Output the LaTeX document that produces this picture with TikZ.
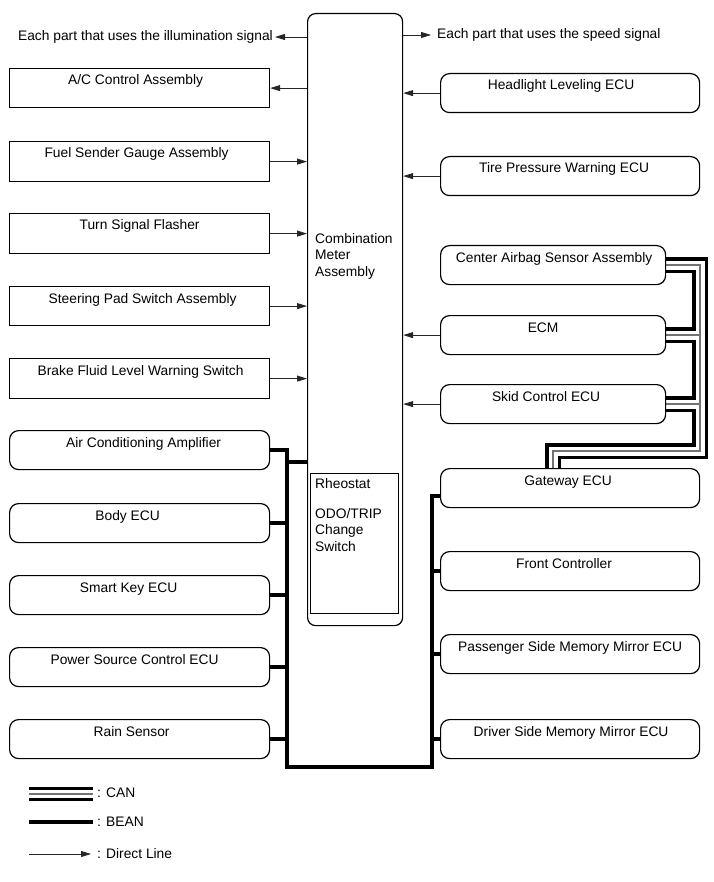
\documentclass[tikz,border=0pt]{standalone}
\usepackage{fontspec}
\setmainfont{Liberation Sans}
\usetikzlibrary{arrows.meta,backgrounds}
\newcommand\cannet[1]{%
  \draw[#1] (cab.east) -- (cab.east -| cx) -- (cx) -- (cg) -- (cg |- gw.north);
  \draw[#1] (ecm.east) -- (ecm.east -| cx);
  \draw[#1] (skid.east) -- (skid.east -| cx);}
\begin{document}
\begin{tikzpicture}[x=1pt,y=-1pt,
  every node/.style={font=\fontsize{13.8}{16.5}\selectfont},
  sq/.style={draw=black, line width=1.2pt, fill=white, anchor=north west, inner sep=0pt, minimum width=260pt, minimum height=39pt},
  rd/.style={sq, rounded corners=9pt},
  tl/.style 2 args={label={[anchor=base,yshift=-17pt,xshift=#2,inner sep=0pt]north:#1}},
  dl/.style={line width=0.8pt, black!85, -{Triangle[length=10pt,width=6pt]}},
  bean/.style={line width=4pt, line join=miter, black},
  canA/.style={line width=16pt, black, line join=miter},
  canB/.style={line width=9pt, white, line join=miter},
  canC/.style={line width=1.3pt, black!55, line join=miter},
]
\useasboundingbox (0,0) rectangle (713,882);

% central meter
\node[draw, line width=1.2pt, rounded corners=8pt, fill=white, anchor=north west, minimum width=95pt, minimum height=612pt, inner sep=0pt] (meter) at (307,13) {};
\node[anchor=north west, align=left, inner sep=0pt] (meterlbl) at (315,233) {Combination\\Meter\\Assembly};
\node[draw, line width=1pt, anchor=north west, minimum width=88pt, minimum height=140pt, inner sep=0pt] (rheo) at (310,473) {};
\node[anchor=base west, inner sep=0pt] (rh1) at (315,488) {Rheostat};
\node[anchor=north west, align=left, inner sep=0pt] (rh2) at (315,508) {ODO/TRIP\\Change\\Switch};

% left boxes
\node[sq, tl={A/C Control Assembly}{-4pt}] (ac) at (9,68) {};
\node[sq, tl={Fuel Sender Gauge Assembly}{-3pt}, minimum height=40pt] (fuel) at (9,141) {};
\node[sq, tl={Turn Signal Flasher}{0pt}, minimum height=40pt] (turn) at (9,213) {};
\node[sq, tl={Steering Pad Switch Assembly}{3pt}] (steer) at (9,286) {};
\node[sq, tl={Brake Fluid Level Warning Switch}{1pt}, minimum height=40pt] (brake) at (9,358) {};
\node[rd, tl={Air Conditioning Amplifier}{4pt}] (acamp) at (9,430) {};
\node[rd, tl={Body ECU}{-12pt}] (body) at (9,503) {};
\node[rd, tl={Smart Key ECU}{-11pt}] (smart) at (9,575) {};
\node[rd, tl={Power Source Control ECU}{-5pt}] (psc) at (9,647) {};
\node[rd, tl={Rain Sensor}{-8pt}] (rain) at (9,719) {};

% right boxes
\node[rd, tl={Headlight Leveling ECU}{-9pt}, minimum width=259pt] (hl) at (440,73) {};
\node[rd, tl={Tire Pressure Warning ECU}{-6pt}, minimum width=259pt] (tp) at (440,156) {};
\node[rd, tl={Center Airbag Sensor Assembly}{1pt}, minimum width=225pt] (cab) at (440,245) {};
\node[rd, tl={ECM}{-10pt}, minimum width=225pt] (ecm) at (440,315) {};
\node[rd, tl={Skid Control ECU}{-7pt}, minimum width=225pt] (skid) at (440,384) {};
\node[rd, tl={Gateway ECU}{-2pt}, minimum width=259pt] (gw) at (440,468) {};
\node[rd, tl={Front Controller}{-6pt}, minimum width=259pt] (fc) at (440,551) {};
\node[rd, tl={Passenger Side Memory Mirror ECU}{0pt}, minimum width=259pt] (pm) at (440,634) {};
\node[rd, tl={Driver Side Memory Mirror ECU}{1pt}, minimum width=259pt] (dm) at (440,719) {};

% top texts
\node[anchor=east, inner sep=0pt] (illum) at (273,37) {Each part that uses the illumination signal};
\node[anchor=west, inner sep=0pt] (speed) at (437,35) {Each part that uses the speed signal};

% coordinates
\coordinate (bl) at (287,767);
\coordinate (br) at (432,767);
\coordinate (gwb) at (440,496);
\coordinate (ms) at (307,462);
\coordinate (cx) at (700,451);
\coordinate (cg) at (553,451);

\begin{scope}[on background layer]
  % BEAN
  \draw[bean] (acamp.east) -| (bl) -- (br) |- (gwb);
  \draw[bean] (ms -| bl) -- (ms);
  \foreach \n in {body,smart,psc,rain} \draw[bean] (\n.east) -- (\n.east -| bl);
  \foreach \n in {fc,pm,dm} \draw[bean] (\n.west) -- (\n.west -| br);
  % CAN
  \cannet{canA}
  \cannet{canB}
  \cannet{canC}
\end{scope}

% direct lines
\draw[dl] (illum -| meter.west) -- ([xshift=2pt]illum.east);
\draw[dl] (speed -| meter.east) -- ([xshift=-6pt]speed.west);
\draw[dl] (ac.east -| meter.west) -- (ac.east);
\foreach \n in {fuel,turn,steer,brake} \draw[dl] (\n.east) -- (\n.east -| meter.west);
\foreach \n in {hl,tp,ecm,skid} \draw[dl] (\n.west) -- (\n.west -| meter.east);

% legend
\draw[canA, line width=14pt] (29,794) -- (93,794);
\draw[canB, line width=8pt] (29,794) -- (93,794);
\draw[canC] (29,794) -- (93,794);
\node[anchor=west, inner sep=0pt] (lgcan) at (97,793) {: CAN};
\draw[bean] (29,822) -- (93,822);
\node[anchor=west, inner sep=0pt] (lgbean) at (97,822) {: BEAN};
\draw[dl] (29,854) -- (91,854);
\node[anchor=west, inner sep=0pt] (lgdir) at (97,854) {: Direct Line};
\end{tikzpicture}
\end{document}
